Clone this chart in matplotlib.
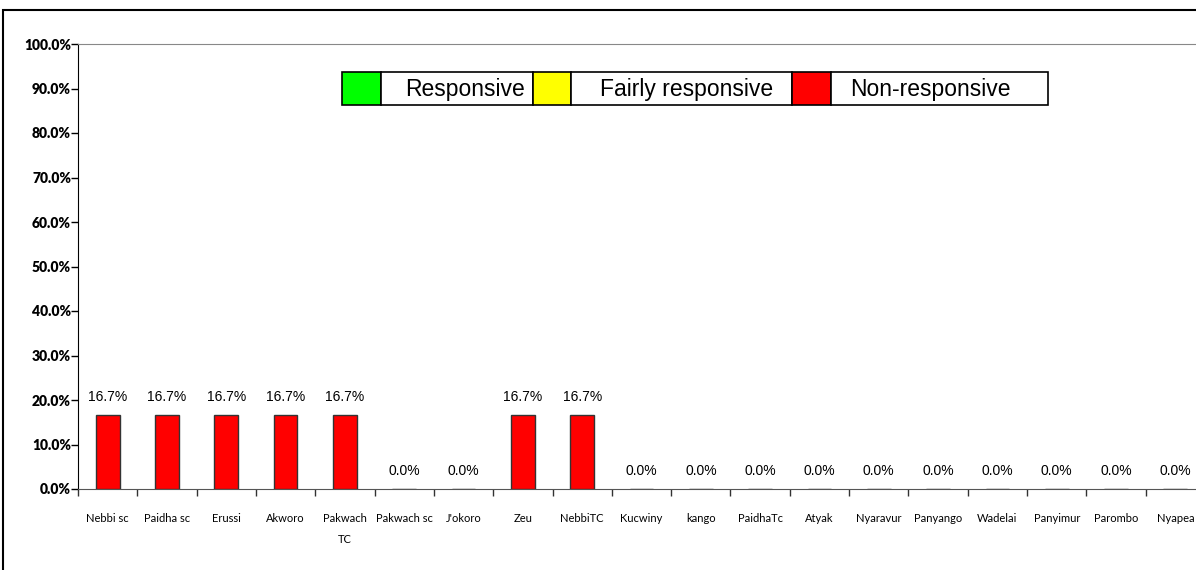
import matplotlib.pyplot as plt
import numpy as np
from matplotlib.patches import Rectangle

# Data
categories = ['Nebbi sc', 'Paidha sc', 'Erussi', 'Akworo', 'Pakwach\nTC', 'Pakwach sc',
              "J'okoro", 'Zeu', 'NebbiTC', 'Kucwiny', 'kango', 'PaidhaTc', 'Atyak',
              'Nyaravur', 'Panyango', 'Wadelai', 'Panyimur', 'Parombo', 'Nyapea']
non_responsive = [16.7, 16.7, 16.7, 16.7, 16.7, 0.0, 0.0, 16.7, 16.7, 0.0,
                  0.0, 0.0, 0.0, 0.0, 0.0, 0.0, 0.0, 0.0, 0.0]
legend_labels = ['Responsive', 'Fairly responsive', 'Non-responsive']
legend_colors = ['#00ff00', '#ffff00', '#ff0000']

narrow = ['Lato', 'DejaVu Sans']
plt.rcParams['font.family'] = ['Liberation Sans', 'DejaVu Sans']

W, H = 1196, 570
fig = plt.figure(figsize=(W / 100, H / 100), dpi=100)

# outer chart frame (cut off at right and bottom)
fig.patches.append(Rectangle((3 / W, -0.1), 1.2, (560 / H) + 0.1, transform=fig.transFigure,
                             fill=False, edgecolor='black', linewidth=1.5))

# plot area, extends slightly past the right edge of the picture
left, right, top, bottom = 78, 1205, 44, 489
ax = fig.add_axes([left / W, (H - bottom) / H, (right - left) / W, (bottom - top) / H])

x = np.arange(len(categories))
ax.bar(x, non_responsive, width=0.4, color='#ff0000', edgecolor='#333333', linewidth=1, zorder=3)

for xi, v in zip(x, non_responsive):
    ax.annotate(f'{v:.1f}%', (xi, v), xytext=(0, 8), textcoords='offset points',
                ha='center', va='bottom', fontsize=10)

ax.set_xlim(-0.5, len(categories) - 0.5)
ax.set_ylim(0, 100)
ax.set_yticks(np.arange(0, 101, 10))
ax.set_yticklabels([f'{v:.1f}%' for v in range(0, 101, 10)], family=narrow,
                   fontweight='heavy', fontsize=10)
ax.tick_params(axis='y', length=5, width=1, color='black', pad=0)

ax.set_xticks(x)
ax.set_xticklabels(categories, family=narrow, fontsize=8, linespacing=2.1)
ax.set_xticks(np.arange(len(categories) + 1) - 0.5, minor=True)
ax.tick_params(axis='x', which='major', length=0, pad=17)
ax.tick_params(axis='x', which='minor', length=5, width=1, color='#333333')

ax.spines['left'].set_color('black')
ax.spines['bottom'].set_color('#555555')
ax.spines['top'].set_color('#888888')
ax.spines['right'].set_visible(False)

# legend drawn as a row of bordered cells
cells = [(342, 381), (381, 533), (533, 571), (571, 792), (792, 831), (831, 1048)]
text_x = [465, 687, 930]
ly0, ly1 = 72, 105
for i, (x0, x1) in enumerate(cells):
    face = legend_colors[i // 2] if i % 2 == 0 else 'white'
    fig.patches.append(Rectangle((x0 / W, (H - ly1) / H), (x1 - x0) / W, (ly1 - ly0) / H,
                                 transform=fig.transFigure, facecolor=face,
                                 edgecolor='black', linewidth=1.2, zorder=5))
    if i % 2 == 1:
        fig.text(text_x[i // 2] / W, (H - (ly0 + ly1) / 2 - 1) / H, legend_labels[i // 2],
                 ha='center', va='center', fontsize=16.5, zorder=6)

plt.savefig('out.png', dpi=100)
